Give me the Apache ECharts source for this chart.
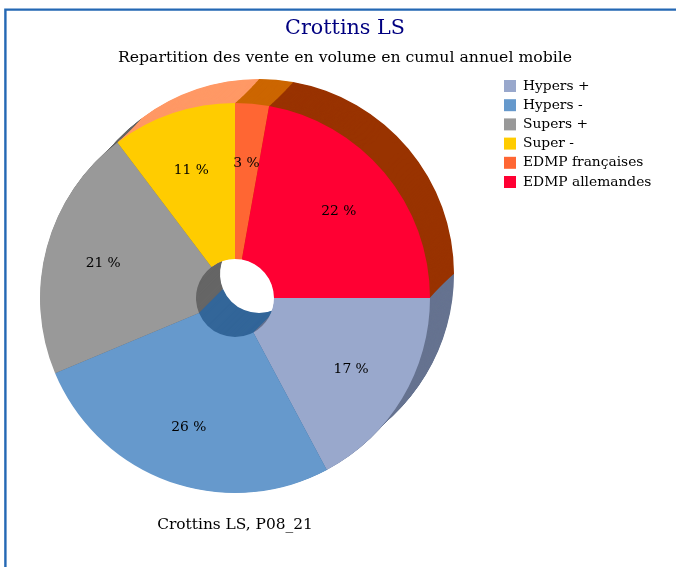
<!DOCTYPE html>
<html><head><meta charset="utf-8">
<style>html,body{margin:0;padding:0;background:#fff}#c{width:676px;height:567px}</style>
<script src="https://cdn.jsdelivr.net/npm/echarts@6/dist/echarts.min.js"></script>
</head><body><div id="c"></div>
<script>
const categories = ['Hypers +','Hypers -','Supers +','Super -','EDMP françaises','EDMP allemandes'];
const values = [17.2,26.5,21,10.3,2.8,22.2];
const shownPercent = [17,26,21,11,3,22];
const colors = ['#99A8CC','#6699CC','#999999','#FFCC00','#FF6633','#FF0033'];
const sideColors = ['#667390','#336699','#666666','#FF9966','#CC6600','#993300'];
const FONT = '"DejaVu Serif"';
const CX = 235, CY = 298, R0 = 39, R = 195, DEPTH = 24;
const chart = echarts.init(document.getElementById('c'),null,{renderer:'canvas'});
const named = categories.map((n,i)=>({name:n,value:values[i]}));
const depthLayers = [];
for (let d = DEPTH; d > 0; d -= 0.5) {
  // each layer passes through the points where the front and back discs cross
  const t = (d - DEPTH/2) * Math.SQRT2, tMax = DEPTH/2 * Math.SQRT2;
  const r = Math.sqrt(R*R - (tMax*tMax - t*t));
  depthLayers.push({type:'pie',silent:true,center:[CX+d,CY-d],radius:[R0,r],startAngle:0,color:sideColors,
    label:{show:false},labelLine:{show:false},data:values.slice(),z:1});
}
chart.setOption({
  animation:false,
  backgroundColor:'#fff',
  graphic:[{type:'rect',silent:true,z:-1,shape:{x:5.4,y:9.6,width:700,height:600},style:{fill:'#fff',stroke:'#2468B4',lineWidth:2.4}}],
  title:[
    {text:'Crottins LS',left:345,top:18,padding:0,textAlign:'center',textStyle:{fontFamily:FONT,fontSize:20.7,fontWeight:'normal',color:'#000080'}},
    {text:'Repartition des vente en volume en cumul annuel mobile',left:345,top:50,padding:0,textAlign:'center',textStyle:{fontFamily:FONT,fontSize:15.7,fontWeight:'normal',color:'#000'}},
    {text:'Crottins LS, P08_21',left:235,top:517,padding:0,textAlign:'center',textStyle:{fontFamily:FONT,fontSize:15.4,fontWeight:'normal',color:'#000'}}
  ],
  legend:{orient:'vertical',left:499,top:74,itemWidth:12,itemHeight:12,itemGap:5.2,icon:'rect',selectedMode:false,data:categories,
    textStyle:{fontFamily:FONT,fontSize:13.8,color:'#000',padding:[0,0,0,2]}},
  series:depthLayers.concat([
    {type:'pie',silent:true,center:[CX,CY],radius:[R0,R],startAngle:0,color:colors,label:{show:false},labelLine:{show:false},data:named,z:2},
    {type:'pie',silent:true,center:[CX-0.5,CY+1],radius:[71,195],startAngle:0,itemStyle:{color:'rgba(0,0,0,0)'},z:3,
      label:{show:true,position:'inside',fontFamily:FONT,fontSize:13.8,color:'#000',formatter:p=>shownPercent[p.dataIndex]+' %'},
      labelLine:{show:false},data:values.slice()}
  ])
});
</script></body></html>
